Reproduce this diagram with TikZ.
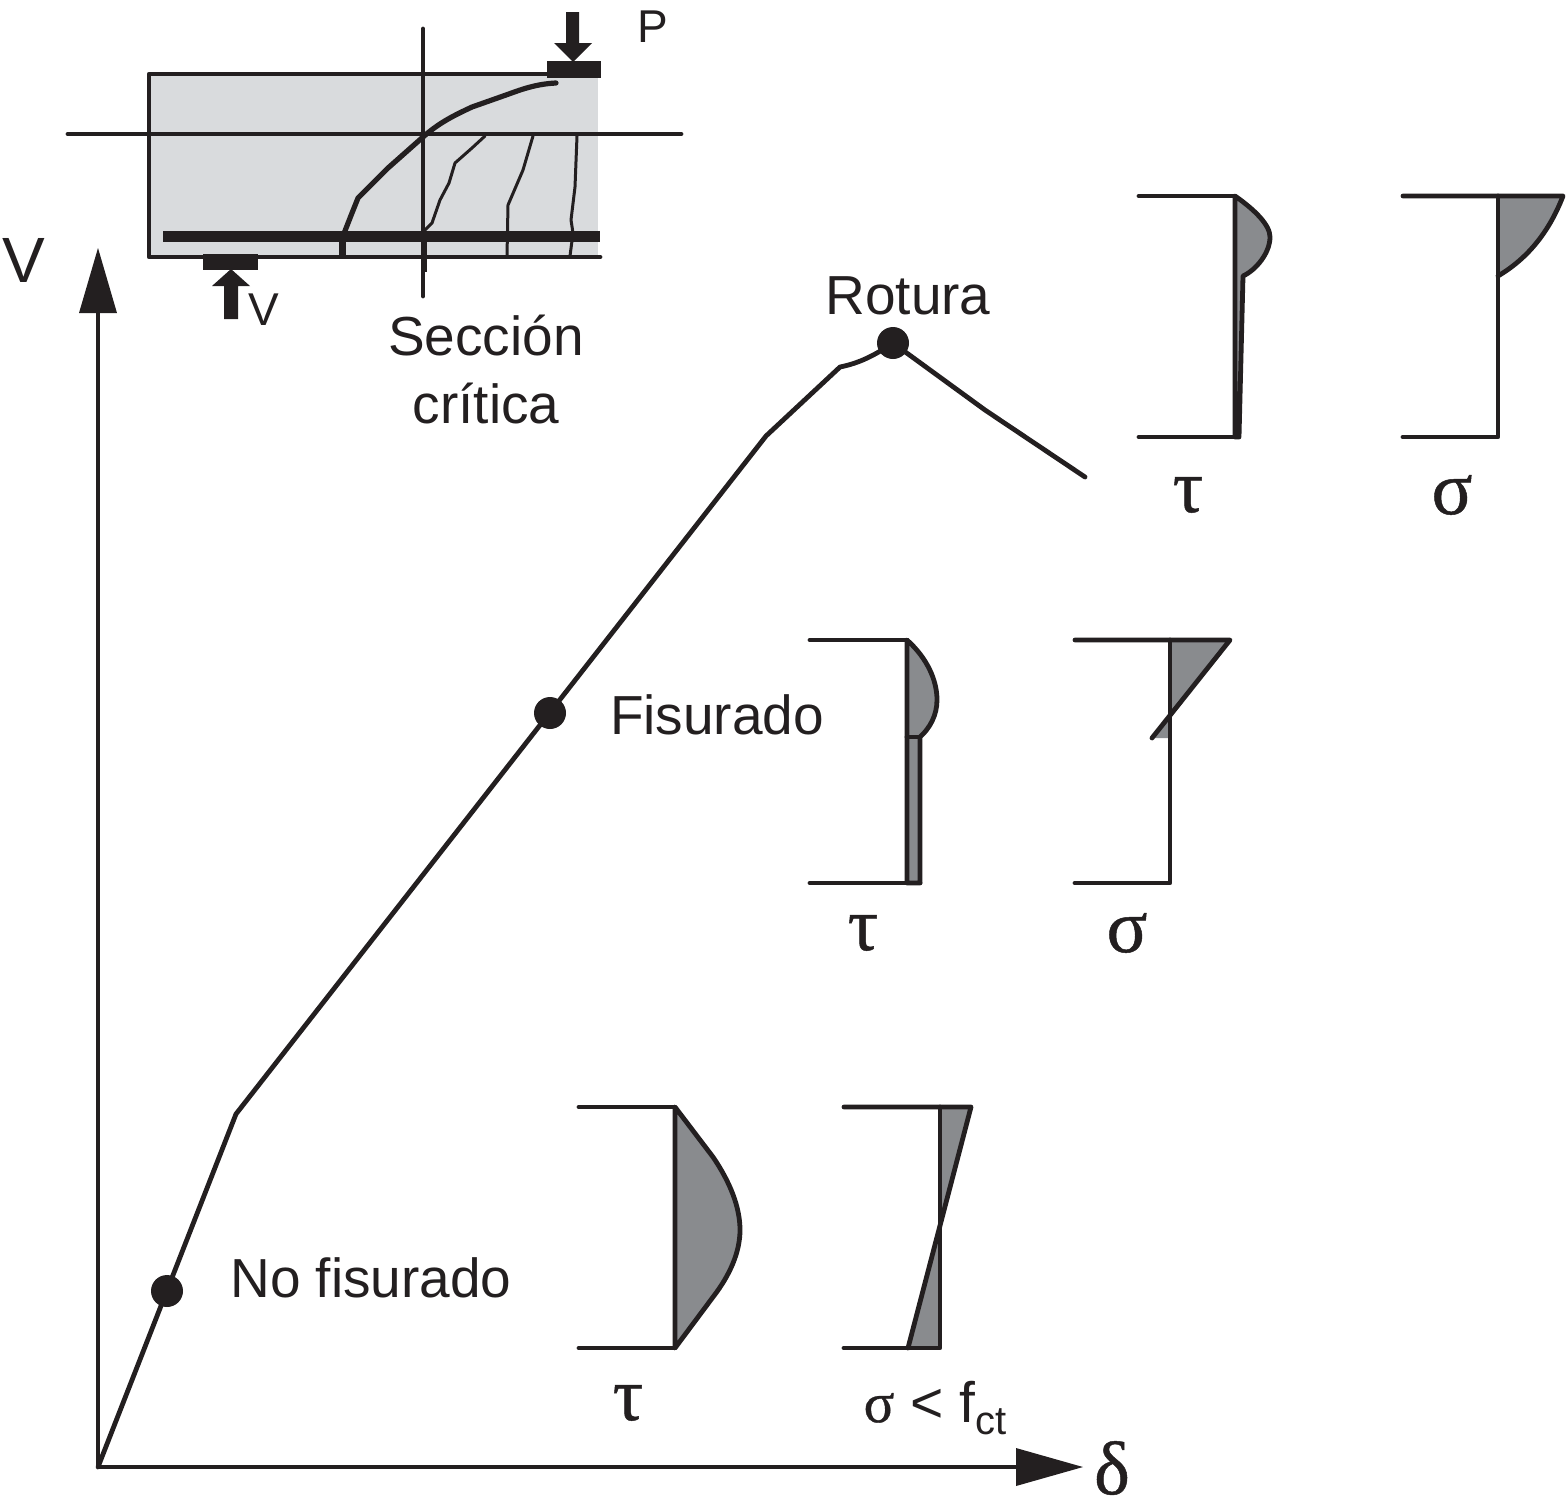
\documentclass[tikz,border=0pt]{standalone}
\usepackage{fontspec}
\setmainfont{Liberation Sans}
\newfontfamily\greekfont[FakeBold=0.6]{Liberation Serif}
\definecolor{ink}{HTML}{231F20}
\definecolor{shade}{HTML}{898B8E}
\definecolor{beamgrey}{HTML}{D9DBDD}
\tikzset{
  lab/.style={inner sep=0pt,text=ink,align=center,font=\fontsize{27.5}{34}\selectfont},
  gk/.style={inner sep=0pt,text=ink,font=\greekfont\fontsize{38}{40}\selectfont},
  bigV/.style={inner sep=0pt,text=ink,font=\fontsize{32}{36}\selectfont},
  smallL/.style={inner sep=0pt,text=ink,font=\fontsize{23}{26}\selectfont},
  ln/.style={draw=ink,line width=2.4pt,line cap=round,line join=round},
  thin/.style={draw=ink,line width=2.4pt,line cap=round,line join=round},
  crack/.style={draw=ink,line width=1.5pt,line cap=round,line join=round},
  mcrack/.style={draw=ink,line width=2.6pt,line cap=round,line join=round},
  sh/.style={fill=shade,draw=none},
  pt/.style={circle,fill=ink,draw=none,minimum size=16pt,inner sep=0pt},
}
\begin{document}
\begin{tikzpicture}[x=0.5pt,y=-0.5pt]
\useasboundingbox (0,0) rectangle (1568,1511);
% beam
\fill[beamgrey] (149,74) rectangle (598,257);
\draw[ln] (547,74) -- (149,74) -- (149,257) -- (600,257);
\draw[thin] (68,134) -- (681,134);
\draw[thin] (423,29) -- (423,296);
\fill[ink] (163,231) rectangle (600,242);
\fill[ink] (339,236) rectangle (346,257);
\fill[ink] (421,236) rectangle (427,272);
% cracks
\draw[mcrack] (556,83) .. controls (535,84) and (520,90) .. (506,95) -- (472,107) .. controls (455,115) and (440,122) .. (423,137) -- (388,168) -- (358,198) -- (352,213) -- (343,236);
\draw[crack] (485,136) -- (472,148) -- (455,163) -- (449,183) -- (440,200) -- (432,223) -- (421,234);
\draw[crack] (533,136) -- (523,170) -- (508,205) -- (507,256);
\draw[crack] (577,136) -- (575,187) -- (571,220) -- (573,233) -- (570,256);
% load and support
\fill[ink] (547,61) rectangle (601,78);
\fill[ink] (566,12) -- (579,12) -- (579,43) -- (592,43) -- (573,62) -- (554,43) -- (566,43) -- cycle;
\fill[ink] (203,254) rectangle (258,270);
\fill[ink] (231,269) -- (250,286) -- (238,286) -- (238,319) -- (224,319) -- (224,286) -- (212,286) -- cycle;
% axes
\coordinate (O) at (98,1467);
\coordinate (Vtip) at (98,248);
\coordinate (Dtip) at (1083,1467);
\draw[ln,line cap=butt] (O) -- (98,300);
\draw[ln,line cap=butt] (O) -- (1030,1467);
\fill[ink] (Vtip) -- (117,313) -- (79,313) -- cycle;
\fill[ink] (Dtip) -- (1016,1486) -- (1016,1448) -- cycle;
% curve
\coordinate (k1) at (236,1114);
\coordinate (k2) at (766,436);
\coordinate (k3) at (840,367);
\coordinate (k5) at (985,410);
\coordinate (k6) at (1085,477);
\node[pt] (p1) at (167,1291) {};
\node[pt] (p2) at (550,713) {};
\node[pt] (p3) at (893,343) {};
\draw[ln] (O) -- (k1) -- (k2) -- (k3) .. controls (860,363) and (875,355) .. (p3.center) -- (k5) -- (k6);
% Rotura tau
\filldraw[fill=shade,draw=ink,line width=2.4pt,line join=round] (1235,196) .. controls (1255,210) and (1270,225) .. (1270,237) .. controls (1270,253) and (1256,270) .. (1243,276) -- (1239,437) -- (1235,437) -- cycle;
\draw[ln] (1139,196) -- (1235,196) -- (1235,437) -- (1139,437);
% Rotura sigma
\path[sh] (1498,196) -- (1563,196) .. controls (1548,235) and (1525,260) .. (1498,276) -- cycle;
\draw[ln] (1403,196) -- (1563,196) .. controls (1548,235) and (1525,260) .. (1498,276);
\draw[ln] (1498,196) -- (1498,437) -- (1403,437);
% Fisurado tau
\filldraw[fill=shade,draw=ink,line width=2.4pt,line join=round] (907,640) .. controls (927,658) and (937,680) .. (937,700) .. controls (937,715) and (930,728) .. (920,737) -- (920,883) -- (907,883) -- cycle;
\draw[ln] (907,737) -- (920,737);
\draw[ln] (810,640) -- (907,640) -- (907,883) -- (810,883);
\draw[ln] (907,883) -- (920,883);
% Fisurado sigma
\path[sh] (1170,640) -- (1230,640) -- (1170,715) -- cycle;
\path[sh] (1170,715) -- (1170,738) -- (1152,738) -- cycle;
\draw[ln] (1075,640) -- (1230,640) -- (1152,738);
\draw[ln] (1170,640) -- (1170,883) -- (1075,883);
% No fisurado tau
\filldraw[fill=shade,draw=ink,line width=2.4pt,line join=round] (675,1107) -- (713,1157) .. controls (730,1182) and (740,1207) .. (740,1230) .. controls (740,1252) and (730,1275) .. (713,1297) -- (675,1348) -- cycle;
\draw[ln] (579,1107) -- (675,1107);
\draw[ln] (579,1348) -- (675,1348);
% No fisurado sigma
\path[sh] (940,1107) -- (971,1107) -- (940,1225) -- cycle;
\path[sh] (940,1225) -- (940,1348) -- (908,1348) -- cycle;
\draw[ln] (844,1107) -- (971,1107) -- (908,1348);
\draw[ln] (940,1107) -- (940,1348) -- (844,1348);
% labels
\node[bigV] (lV) at (24,260) {V};
\node[smallL] (lP) at (653,27) {P};
\node[smallL] (lv) at (264,310) {V};
\node[lab] (lSec) at (486,370) {Sección\\[0pt]crítica};
\node[lab] (lRot) at (908,296) {Rotura};
\node[lab] (lFis) at (717,715) {Fisurado};
\node[lab] (lNo) at (371,1278) {No fisurado};
\node[gk] (t3) at (1188,495) {τ};
\node[gk] (s3) at (1452,495) {σ};
\node[gk] (t2) at (863,933) {τ};
\node[gk] (s2) at (1127,933) {σ};
\node[gk] (t1) at (628,1403) {τ};
\node[gk] (d) at (1112,1468) {δ};
\node[inner sep=0pt,text=ink,font=\fontsize{28.5}{30}\selectfont] (s1) at (935,1408) {{\greekfont σ} < f\raisebox{-0.22em}{\fontsize{20}{21}\selectfont ct}};
\end{tikzpicture}
\end{document}
